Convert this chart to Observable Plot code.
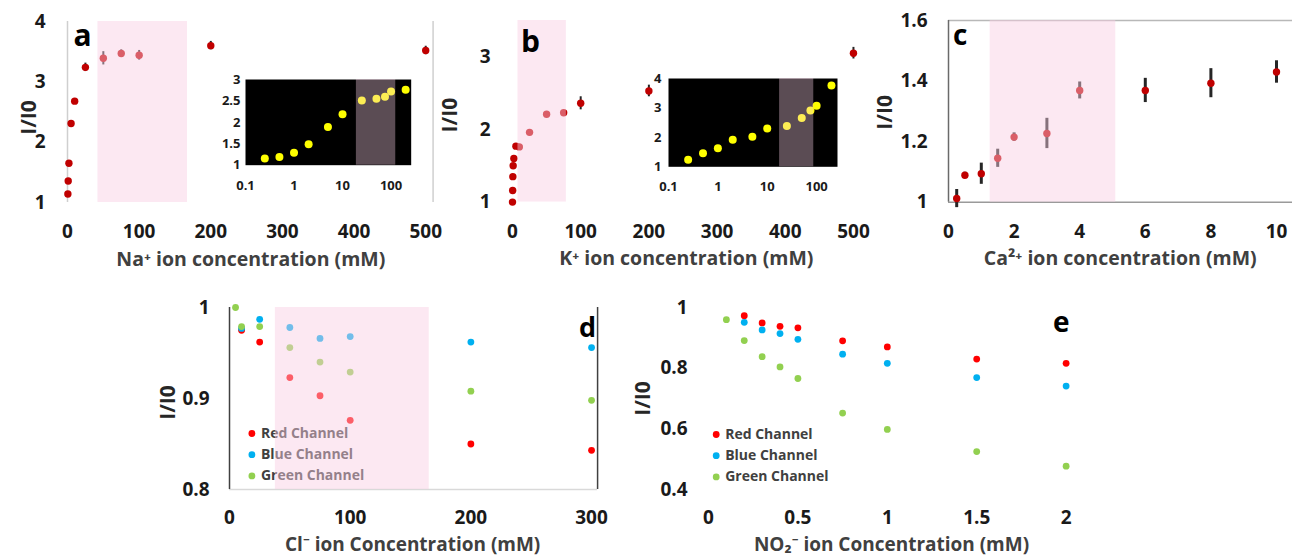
<!DOCTYPE html>
<html><head><meta charset="utf-8">
<script src="https://cdn.jsdelivr.net/npm/d3@7"></script>
<script src="https://cdn.jsdelivr.net/npm/@observablehq/plot@0.6"></script>
<style>
body{margin:0;background:#fff;}
#root{position:relative;width:1292px;height:557px;overflow:hidden;background:#fff;}
</style></head><body><div id="root"></div>
<script>
// ---------- DATA ----------
// a: Na+
const naX = [0.5, 1, 2, 5, 10, 25, 50, 75, 100, 200, 500];
const naY = [1.14, 1.355, 1.65, 2.31, 2.68, 3.24, 3.39, 3.47, 3.44, 3.60, 3.52];
const naErr = [0.02, 0.02, 0.02, 0.03, 0.03, 0.07, 0.11, 0.06, 0.08, 0.07, 0.07];
const naBand = [42.5, 167.5];
const naInsetX = [0.25, 0.5, 1, 2, 5, 10, 25, 50, 75, 100, 200];
const naInsetY = [1.156, 1.19, 1.29, 1.49, 1.89, 2.19, 2.51, 2.55, 2.60, 2.72, 2.76];
const naInsetBand = [19.3, 125];
// b: K+
const kX = [0, 0.25, 0.5, 1, 2, 5, 10, 25, 50, 75, 100, 200, 500];
const kY = [1.00, 1.16, 1.35, 1.50, 1.60, 1.77, 1.76, 1.96, 2.21, 2.23, 2.36, 2.53, 3.05];
const kErr = [0.01, 0.01, 0.01, 0.01, 0.01, 0.02, 0.02, 0.02, 0.02, 0.02, 0.09, 0.08, 0.08];
const kBand = [8, 79];
const kInsetX = [0.25, 0.5, 1, 2, 5, 10, 25, 50, 75, 100, 200];
const kInsetY = [1.24, 1.46, 1.63, 1.92, 2.02, 2.30, 2.39, 2.66, 2.91, 3.07, 3.76];
const kInsetBand = [17.8, 87.6];
// c: Ca2+
const caX = [0.25, 0.5, 1, 1.5, 2, 3, 4, 6, 8, 10];
const caY = [1.012, 1.089, 1.094, 1.145, 1.215, 1.227, 1.369, 1.369, 1.393, 1.430];
const caErr = [0.03, 0.01, 0.035, 0.03, 0.014, 0.05, 0.028, 0.04, 0.048, 0.037];
const caBand = [1.27, 5.1];
// d: Cl-
const clX = [5, 10, 25, 50, 75, 100, 200, 300];
const clRed = [null, 0.975, 0.962, 0.923, 0.903, 0.876, 0.850, 0.843];
const clBlue = [null, 0.977, 0.987, 0.978, 0.966, 0.968, 0.962, 0.956];
const clGreen = [1.0, 0.979, 0.979, 0.956, 0.940, 0.929, 0.908, 0.898];
const clBand = [38, 165.5];
// e: NO2-
const noX = [0.1, 0.2, 0.3, 0.4, 0.5, 0.75, 1, 1.5, 2];
const noRed = [null, 0.973, 0.949, 0.938, 0.933, 0.890, 0.870, 0.830, 0.816];
const noBlue = [null, 0.951, 0.926, 0.914, 0.895, 0.846, 0.816, 0.769, 0.741];
const noGreen = [0.960, 0.891, 0.838, 0.804, 0.766, 0.652, 0.598, 0.525, 0.477];
// labels / ticks
const channelNames = ["Red Channel", "Blue Channel", "Green Channel"];
const channelColors = ["#ff0000", "#00b0f0", "#92d050"];
const yTitle = "I/I0";

// ---------- HELPERS ----------
const root = document.getElementById("root");
const FONT = '"Open Sans","Noto Sans","DejaVu Sans",sans-serif';
const fmt = d => String(d);
const BAND = "#f8cde3";
const zip = (xs, ys, es) => xs.map((x, i) => ({x, y: ys[i], e: es ? es[i] : 0})).filter(d => d.y != null);

function place({x0, x1, y0, y1, ml, mr, mt, mb, xs, ys, marks, fs}) {
  const svg = Plot.plot({
    width: x1 - x0 + ml + mr,
    height: y1 - y0 + mt + mb,
    marginLeft: ml, marginRight: mr, marginTop: mt, marginBottom: mb,
    x: xs, y: ys,
    marks,
    style: {background: "transparent", fontFamily: FONT, fontSize: fs + "px", fontWeight: "700", color: "#1a1a1a", overflow: "visible"}
  });
  svg.style.position = "absolute";
  svg.style.left = (x0 - ml) + "px";
  svg.style.top = (y0 - mt) + "px";
  svg.style.maxWidth = "none";
  root.appendChild(svg);
}
const xTitle = (s, dx, dy, fs = 19.5) => Plot.text([s], {text: d => d, frameAnchor: "bottom", dx, dy, textAnchor: "middle", lineAnchor: "middle", fontSize: fs, fontWeight: 700, fill: "#404040"});
const yTitleMark = (dx, dy) => Plot.text([yTitle], {text: d => d, frameAnchor: "left", rotate: -90, dx, dy, textAnchor: "middle", lineAnchor: "middle", fontSize: 21, fontWeight: 700, fill: "#262626"});
const letter = (s, anchor, dx, dy, fs) => Plot.text([s], {text: d => d, frameAnchor: anchor, dx, dy, textAnchor: "middle", lineAnchor: "middle", fontSize: fs, fontWeight: 700, fill: "#000"});
const band = (b, yd, op) => Plot.rect([b], {x1: d => d[0], x2: d => d[1], y1: yd[0], y2: yd[1], fill: BAND, fillOpacity: op});
const legend = (dx, dy0, step) => channelNames.flatMap((n, i) => [
  Plot.dot([n], {frameAnchor: "top-left", dx, dy: dy0 + i * step, r: 3.4, fill: channelColors[i], stroke: "none"}),
  Plot.text([n], {text: d => d, frameAnchor: "top-left", dx: dx + 9, dy: dy0 + i * step, textAnchor: "start", lineAnchor: "middle", fontSize: 14, fontWeight: 700, fill: "#404040"})
]);

// ---------- PANEL a ----------
{
  const xd = [0, 510.3], yd = [1, 4];
  const data = zip(naX, naY, naErr);
  place({x0: 66.7, x1: 432.3, y0: 20.7, y1: 201.7, ml: 80, mr: 6, mt: 5, mb: 75, fs: 19,
    xs: {type: "linear", domain: xd}, ys: {type: "linear", domain: yd},
    marks: [
      Plot.ruleX([xd[0], xd[1]], {stroke: "#cfcfcf", strokeWidth: 1.5}),
      Plot.ruleX(data, {x: "x", y1: d => d.y - d.e, y2: d => d.y + d.e, stroke: "#262626", strokeWidth: 2}),
      Plot.dot(data, {x: "x", y: "y", r: 3.7, fill: "#c00000", stroke: "none"}),
      band(naBand, yd, 0.46),
      Plot.axisX([0, 100, 200, 300, 400, 500], {tickSize: 0, tickPadding: 22, label: null, tickFormat: fmt}),
      Plot.axisY([1, 2, 3, 4], {tickSize: 0, tickPadding: 22, label: null, tickFormat: fmt}),
      letter("a", "top-left", 15, 14.7, 30),
      xTitle("Na⁺ ion concentration (mM)", 0.5, 57),
      yTitleMark(-38.4, 5.5)
    ]});
}
// ---------- PANEL b ----------
{
  const xd = [0, 520], yd = [1, 3.5];
  const data = zip(kX, kY, kErr);
  place({x0: 512, x1: 866.6, y0: 20.4, y1: 202, ml: 85, mr: 5, mt: 5, mb: 75, fs: 19,
    xs: {type: "linear", domain: xd}, ys: {type: "linear", domain: yd},
    marks: [
      Plot.ruleX(data, {x: "x", y1: d => d.y - d.e, y2: d => d.y + d.e, stroke: "#262626", strokeWidth: 2}),
      Plot.dot(data, {x: "x", y: "y", r: 3.7, fill: "#c00000", stroke: "none"}),
      band(kBand, yd, 0.46),
      Plot.axisX([0, 100, 200, 300, 400, 500], {tickSize: 0, tickPadding: 22, label: null, tickFormat: fmt}),
      Plot.axisY([1, 2, 3], {tickSize: 0, tickPadding: 22, label: null, tickFormat: fmt}),
      letter("b", "top-left", 18, 21.7, 30),
      xTitle("K⁺ ion concentration (mM)", -3.5, 57),
      yTitleMark(-62, 3.8)
    ]});
}
// ---------- PANEL c ----------
{
  const xd = [0, 10.5], yd = [1, 1.6];
  const data = zip(caX, caY, caErr);
  place({x0: 948.3, x1: 1292.7, y0: 20, y1: 201.7, ml: 85, mr: 5, mt: 5, mb: 75, fs: 19,
    xs: {type: "linear", domain: xd}, ys: {type: "linear", domain: yd},
    marks: [
      Plot.ruleY([yd[1]], {stroke: "#b8b8b8", strokeWidth: 1.5}),
      Plot.ruleY([yd[0]], {stroke: "#9a9a9a", strokeWidth: 1.5}),
      Plot.ruleX([xd[0]], {stroke: "#6a6a6a", strokeWidth: 1.5}),
      Plot.ruleX(data, {x: "x", y1: d => d.y - d.e, y2: d => d.y + d.e, stroke: "#262626", strokeWidth: 3}),
      Plot.dot(data, {x: "x", y: "y", r: 3.7, fill: "#c00000", stroke: "none"}),
      band(caBand, yd, 0.46),
      Plot.axisX([0, 2, 4, 6, 8, 10], {tickSize: 0, tickPadding: 22, label: null, tickFormat: fmt}),
      Plot.axisY([1, 1.2, 1.4, 1.6], {tickSize: 0, tickPadding: 21, label: null, tickFormat: fmt}),
      letter("c", "top-left", 11.7, 16, 28),
      xTitle("Ca²⁺ ion concentration (mM)", -0.5, 56.3),
      yTitleMark(-63.3, 1)
    ]});
}
// ---------- PANEL d ----------
{
  const xd = [0, 305], yd = [0.8, 1];
  const series = [clRed, clBlue, clGreen];
  place({x0: 228.6, x1: 596.7, y0: 307.3, y1: 489.3, ml: 85, mr: 5, mt: 5, mb: 75, fs: 19,
    xs: {type: "linear", domain: xd}, ys: {type: "linear", domain: yd},
    marks: [
      Plot.ruleY([yd[0]], {stroke: "#d9d9d9", strokeWidth: 1.5}),
      Plot.ruleX([xd[0], xd[1]], {stroke: "#404040", strokeWidth: 1.5}),
      ...series.map((s, i) => Plot.dot(zip(clX, s), {x: "x", y: "y", r: 3.4, fill: channelColors[i], stroke: "none"})),
      ...legend(22.4, 126, 21.2),
      band(clBand, yd, 0.46),
      Plot.axisX([0, 100, 200, 300], {tickSize: 0, tickPadding: 21, label: null, tickFormat: fmt}),
      Plot.axisY([0.8, 0.9, 1], {tickSize: 0, tickPadding: 20, label: null, tickFormat: fmt}),
      letter("d", "top-right", -10, 20.7, 27),
      xTitle("Cl⁻ ion Concentration (mM)", -0.9, 55, 19),
      yTitleMark(-61.1, 4)
    ]});
}
// ---------- PANEL e ----------
{
  const xd = [0, 2.2], yd = [0.4, 1];
  const series = [noRed, noBlue, noGreen];
  place({x0: 708, x1: 1101.4, y0: 307.3, y1: 489.3, ml: 85, mr: 5, mt: 5, mb: 75, fs: 19,
    xs: {type: "linear", domain: xd}, ys: {type: "linear", domain: yd},
    marks: [
      ...series.map((s, i) => Plot.dot(zip(noX, s), {x: "x", y: "y", r: 3.4, fill: channelColors[i], stroke: "none"})),
      ...legend(7.7, 127, 21.2),
      Plot.axisX([0, 0.5, 1, 1.5, 2], {tickSize: 0, tickPadding: 21, label: null, tickFormat: fmt}),
      Plot.axisY([0.4, 0.6, 0.8, 1], {tickSize: 0, tickPadding: 21, label: null, tickFormat: fmt}),
      letter("e", "top-left", 352.7, 16, 28),
      xTitle("NO₂⁻ ion Concentration (mM)", -13.7, 55, 19),
      yTitleMark(-65, 0)
    ]});
}
// ---------- INSET a ----------
{
  const xd = [0.1, 260], yd = [1, 3];
  const data = zip(naInsetX, naInsetY);
  place({x0: 245, x1: 410.7, y0: 79.3, y1: 165, ml: 35, mr: 5, mt: 8, mb: 30, fs: 13,
    xs: {type: "log", domain: xd}, ys: {type: "linear", domain: yd},
    marks: [
      Plot.frame({fill: "#000", stroke: "none"}),
      Plot.dot(data, {x: "x", y: "y", r: 4, fill: "#ffff00", stroke: "none"}),
      band(naInsetBand, yd, 0.37),
      Plot.axisX([0.1, 1, 10, 100], {tickSize: 0, tickPadding: 15.4, label: null, tickFormat: fmt}),
      Plot.axisY([1, 1.5, 2, 2.5, 3], {tickSize: 0, tickPadding: 5, label: null, tickFormat: fmt})
    ]});
}
// ---------- INSET b ----------
{
  const xd = [0.1, 265], yd = [1, 4];
  const data = zip(kInsetX, kInsetY);
  place({x0: 668.3, x1: 837.3, y0: 77.7, y1: 166, ml: 30, mr: 5, mt: 8, mb: 30, fs: 13,
    xs: {type: "log", domain: xd}, ys: {type: "linear", domain: yd},
    marks: [
      Plot.frame({fill: "#000", stroke: "none"}),
      Plot.dot(data, {x: "x", y: "y", r: 4, fill: "#ffff00", stroke: "none"}),
      band(kInsetBand, yd, 0.37),
      Plot.axisX([0.1, 1, 10, 100], {tickSize: 0, tickPadding: 15.4, label: null, tickFormat: fmt}),
      Plot.axisY([1, 2, 3, 4], {tickSize: 0, tickPadding: 7, label: null, tickFormat: fmt})
    ]});
}
</script></body></html>
